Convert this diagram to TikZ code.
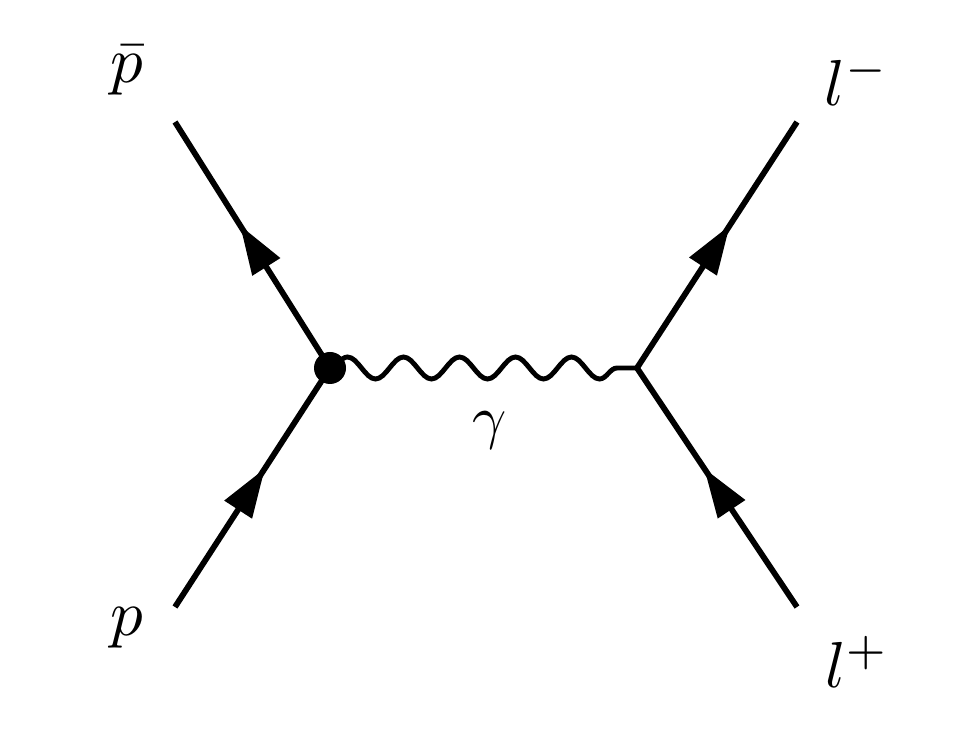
\documentclass[tikz,border=0pt]{standalone}
\usetikzlibrary{decorations.pathmorphing,decorations.markings,arrows.meta}
\begin{document}
\begin{tikzpicture}[x=0.02cm,y=-0.02cm,
  fermion/.style={line width=3.3pt,postaction={decorate},decoration={markings,mark=at position 0.58 with {\arrow{Triangle[length=28pt,width=18pt]}}}},
  photon/.style={line width=2.8pt,decorate,decoration={snake,segment length=56*0.02cm,amplitude=11*0.02cm}},
  lbl/.style={scale=3.7},
  glbl/.style={scale=3.4}]
\useasboundingbox (0,0) rectangle (964,739);
\coordinate (v1) at (330,368);
\coordinate (v2) at (637,368);
\coordinate (pb) at (175,122);
\coordinate (pp) at (175,607);
\coordinate (lm) at (797,122);
\coordinate (lp) at (797,607);
\draw[fermion] (pp) -- (v1);
\draw[fermion] (v1) -- (pb);
\draw[fermion] (v2) -- (lm);
\draw[fermion] (lp) -- (v2);
\draw[photon] (v1) -- (v2);
\fill (v1) circle (16);
\node[lbl] (tpb) at (127,70) {$\bar p$};
\node[lbl] (tp) at (127,628) {$p$};
\node[lbl] (tlm) at (857,80) {$l^-$};
\node[lbl] (tlp) at (857,662) {$l^+$};
\node[glbl] (tg) at (490,430) {$\gamma$};
\end{tikzpicture}
\end{document}
